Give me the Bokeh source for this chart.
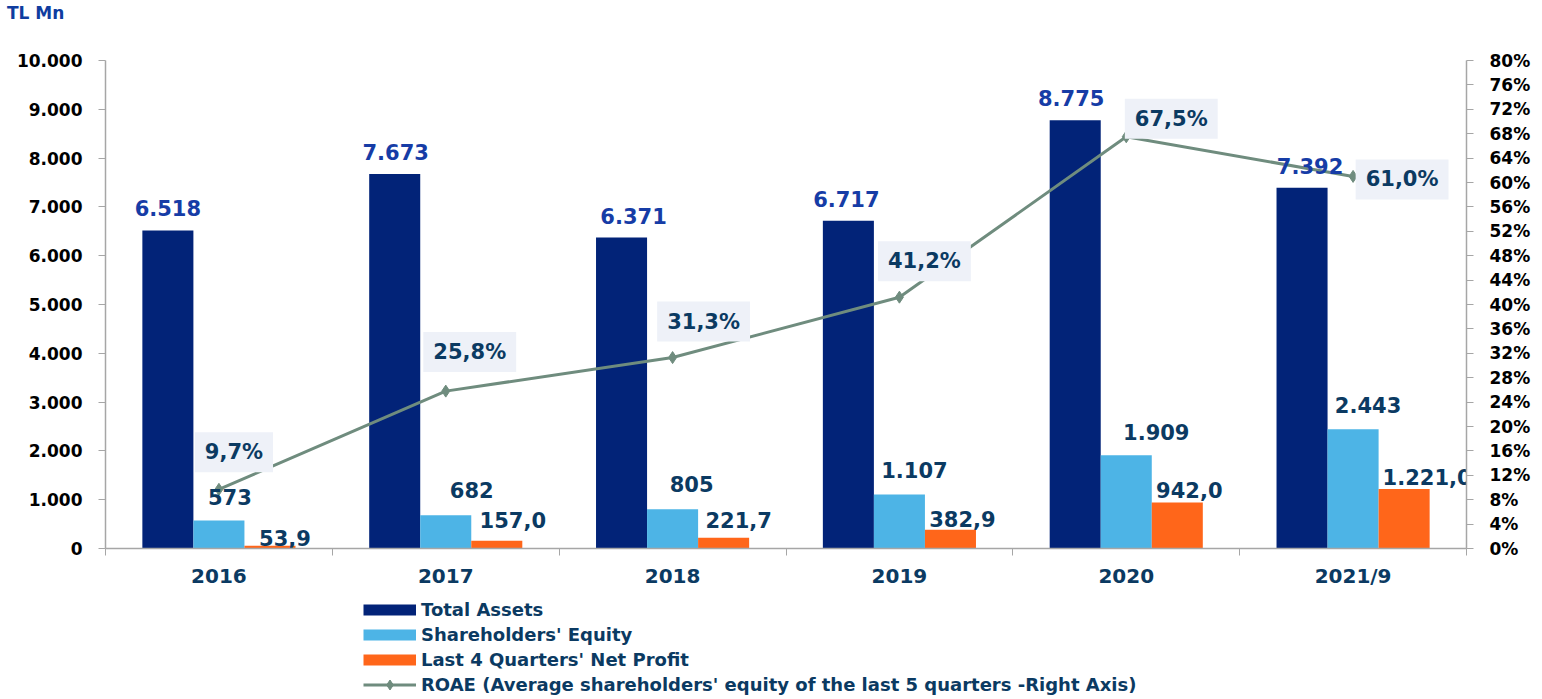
from bokeh.plotting import figure
from bokeh.models import (Range1d, LinearAxis, FixedTicker, ColumnDataSource, Legend, LegendItem,
                          PrintfTickFormatter, Div)
from bokeh.layouts import column
from bokeh.core.properties import value
from bokeh.embed import file_html
from bokeh.resources import INLINE

# ---------------- data ----------------
categories = ["2016", "2017", "2018", "2019", "2020", "2021/9"]
total_assets = [6518, 7673, 6371, 6717, 8775, 7392]
equity = [573, 682, 805, 1107, 1909, 2443]
net_profit = [53.9, 157.0, 221.7, 382.9, 942.0, 1221.0]
roae = [9.7, 25.8, 31.3, 41.2, 67.5, 61.0]

ta_labels = ["6.518", "7.673", "6.371", "6.717", "8.775", "7.392"]
eq_labels = ["573", "682", "805", "1.107", "1.909", "2.443"]
np_labels = ["53,9", "157,0", "221,7", "382,9", "942,0", "1.221,0"]
roae_labels = ["9,7%", "25,8%", "31,3%", "41,2%", "67,5%", "61,0%"]

left_ticks = [0, 1000, 2000, 3000, 4000, 5000, 6000, 7000, 8000, 9000, 10000]
left_tick_labels = ["0", "1.000", "2.000", "3.000", "4.000", "5.000", "6.000", "7.000", "8.000", "9.000", "10.000"]
right_ticks = list(range(0, 81, 4))

legend_labels = ["Total Assets", "Shareholders' Equity", "Last 4 Quarters' Net Profit",
                 "ROAE (Average shareholders' equity of the last 5 quarters -Right Axis)"]

# ---------------- styles ----------------
C_TA = "#022378"
C_EQ = "#4DB4E6"
C_NP = "#FF661A"
C_LINE = "#6F8C7E"
C_TA_TXT = "#163CA6"
C_TXT = "#0B3A62"
C_AXIS = "#A6A6A6"
FONT = "DejaVu Sans"
BW = 0.225
W = 1540

ta_dx = [0, 1, 12, -2, -4, 8]
eq_dx = [11, 26, 19, 15, 30, 15]
eq_dy = [-24, -25, -25, -24, -23, -24]
np_dx = [15, 16, 15, 12, 12, 23]
np_dy = [-8, -21, -18, -11, -13, -12]
ro_dx = [15, 24, 31, 25, 45, 49]
ro_dy = [-37, -39, -36, -36, -18, 3]

xc = [i + 0.5 for i in range(len(categories))]

src = ColumnDataSource(dict(
    xc=xc,
    x_ta=[x - BW for x in xc],
    x_eq=xc,
    x_np=[x + BW for x in xc],
    ta=total_assets, eq=equity, np_=net_profit, roae=roae,
    ta_lab=ta_labels, eq_lab=eq_labels, np_lab=np_labels, ro_lab=roae_labels,
    ta_dx=ta_dx, ta_dy=[-22] * 6,
    eq_dx=eq_dx, eq_dy=eq_dy, np_dx=np_dx, np_dy=np_dy,
    ro_dx=ro_dx, ro_dy=ro_dy,
))

# ---------------- title ----------------
title = Div(text="TL Mn", width=W, height=26, margin=(0, 0, 0, 0),
            styles={"font-family": FONT, "font-size": "17px", "font-weight": "bold",
                    "color": "#0F3DA0", "padding-left": "7px", "line-height": "26px"})

# ---------------- main plot ----------------
p = figure(width=W, height=564, output_backend="svg", toolbar_location=None,
           x_range=Range1d(0, len(categories)), y_range=Range1d(0, 10000),
           min_border_left=105, min_border_right=74, min_border_top=34, min_border_bottom=40)
p.extra_y_ranges = {"right": Range1d(0, 80)}
p.outline_line_color = None
p.xgrid.visible = False
p.ygrid.visible = False
p.background_fill_color = "white"
p.border_fill_color = "white"

# x axis
xa = p.xaxis[0]
xa.ticker = FixedTicker(ticks=xc, minor_ticks=list(range(len(categories) + 1)))
xa.major_label_overrides = {x: c for x, c in zip(xc, categories)}
xa.major_tick_line_color = None
xa.major_tick_out = 0
xa.major_tick_in = 0
xa.minor_tick_line_color = C_AXIS
xa.minor_tick_out = 7
xa.minor_tick_in = 0
xa.axis_line_color = C_AXIS
xa.axis_line_width = 1.5
xa.major_label_text_font = FONT
xa.major_label_text_font_style = "bold"
xa.major_label_text_font_size = "20px"
xa.major_label_text_color = C_TXT
xa.major_label_standoff = 8

# left axis
ya = p.yaxis[0]
ya.ticker = FixedTicker(ticks=left_ticks)
ya.major_label_overrides = {t: l for t, l in zip(left_ticks, left_tick_labels)}
ya.minor_tick_line_color = None
ya.major_tick_out = 7
ya.major_tick_in = 0
ya.major_tick_line_color = C_AXIS
ya.axis_line_color = C_AXIS
ya.axis_line_width = 1.5
ya.major_label_text_font = FONT
ya.major_label_text_font_style = "bold"
ya.major_label_text_font_size = "17px"
ya.major_label_text_color = "black"
ya.major_label_standoff = 16

# right axis
ra = LinearAxis(y_range_name="right", ticker=FixedTicker(ticks=right_ticks),
                formatter=PrintfTickFormatter(format="%d%%"))
ra.minor_tick_line_color = None
ra.major_tick_out = 7
ra.major_tick_in = 0
ra.major_tick_line_color = C_AXIS
ra.axis_line_color = C_AXIS
ra.axis_line_width = 1.5
ra.major_label_text_font = FONT
ra.major_label_text_font_style = "bold"
ra.major_label_text_font_size = "17px"
ra.major_label_text_color = "black"
ra.major_label_standoff = 16
p.add_layout(ra, "right")

# bars
p.vbar(x="x_ta", top="ta", width=BW, source=src, fill_color=C_TA, line_color=None)
p.vbar(x="x_eq", top="eq", width=BW, source=src, fill_color=C_EQ, line_color=None)
p.vbar(x="x_np", top="np_", width=BW, source=src, fill_color=C_NP, line_color=None)

# line
p.line(x="xc", y="roae", source=src, y_range_name="right", line_color=C_LINE, line_width=3)
p.scatter(x="xc", y="roae", source=src, y_range_name="right", marker="diamond",
          size=12, fill_color=C_LINE, line_color=C_LINE)

# labels
common = dict(source=src, text_font=value(FONT), text_font_style="bold", text_font_size="21px",
              text_align="center", text_baseline="middle")
p.text(x="x_ta", y="ta", text="ta_lab", x_offset="ta_dx", y_offset="ta_dy", text_color=C_TA_TXT, **common)
p.text(x="x_eq", y="eq", text="eq_lab", x_offset="eq_dx", y_offset="eq_dy", text_color=C_TXT, **common)
p.text(x="x_np", y="np_", text="np_lab", x_offset="np_dx", y_offset="np_dy", text_color=C_TXT, **common)
p.text(x="xc", y="roae", text="ro_lab", x_offset="ro_dx", y_offset="ro_dy", text_color=C_TXT,
       y_range_name="right", background_fill_color="#EEF1F8", padding=(10, 8), **common)

# ---------------- legend strip ----------------
p2 = figure(width=W, height=107, output_backend="svg", toolbar_location=None,
            x_range=Range1d(0, 1), y_range=Range1d(0, 1),
            x_axis_type=None, y_axis_type=None,
            min_border_left=105, min_border_right=74, min_border_top=0, min_border_bottom=0)
p2.outline_line_color = None
p2.grid.visible = False
p2.background_fill_color = "white"
p2.border_fill_color = "white"

# legend proxies, placed wholly outside the visible ranges so only their swatches show
px_, py_ = [5, 6], [5, 5]
g_ta = p2.line(x=px_, y=py_, line_color=C_TA, line_width=11)
g_eq = p2.line(x=px_, y=py_, line_color=C_EQ, line_width=11)
g_np = p2.line(x=px_, y=py_, line_color=C_NP, line_width=11)
g_ln = p2.line(x=px_, y=py_, line_color=C_LINE, line_width=3)
g_mk = p2.scatter(x=[5], y=[5], marker="diamond", size=12, fill_color=C_LINE, line_color=C_LINE)

legend = Legend(items=[
    LegendItem(label=legend_labels[0], renderers=[g_ta]),
    LegendItem(label=legend_labels[1], renderers=[g_eq]),
    LegendItem(label=legend_labels[2], renderers=[g_np]),
    LegendItem(label=legend_labels[3], renderers=[g_ln, g_mk]),
], location=(258, 0), orientation="vertical")
legend.glyph_width = 53
legend.glyph_height = 25
legend.label_height = 20
legend.spacing = 0
legend.padding = 0
legend.margin = 0
legend.label_standoff = 5
legend.border_line_color = None
legend.background_fill_alpha = 0
legend.label_text_font = FONT
legend.label_text_font_style = "bold"
legend.label_text_font_size = "18px"
legend.label_text_color = C_TXT
p2.add_layout(legend)

layout = column(title, p, p2, spacing=0)
open("out.html", "w").write(file_html(layout, INLINE))
